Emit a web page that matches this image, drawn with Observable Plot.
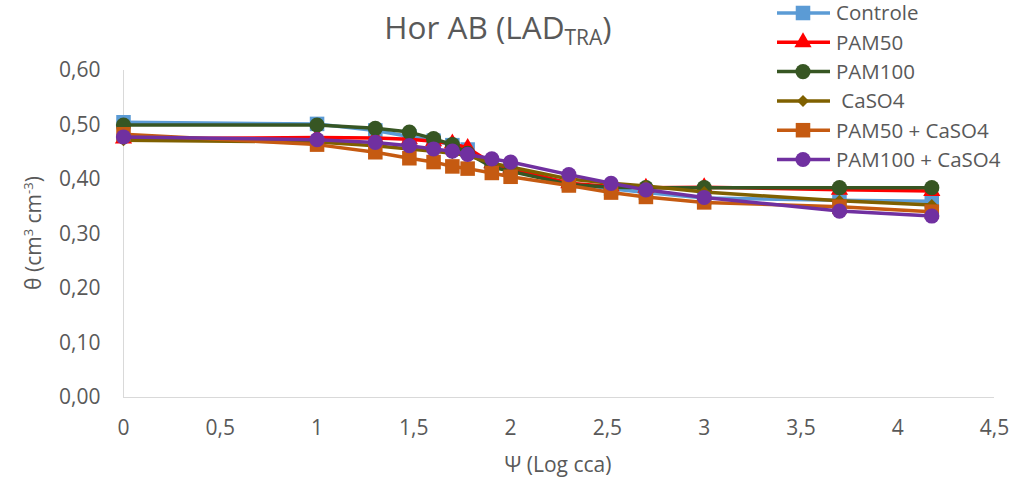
<!DOCTYPE html>
<html><head><meta charset="utf-8">
<script src="https://cdn.jsdelivr.net/npm/d3@7"></script>
<script src="https://cdn.jsdelivr.net/npm/@observablehq/plot@0.6"></script>
<style>body{margin:0;background:#fff;} #chart{position:relative;width:1028px;height:484px;}</style>
</head><body><div id="chart"></div>
<script>
const psi = [0, 1, 1.301, 1.477, 1.602, 1.699, 1.778, 1.903, 2, 2.301, 2.519, 2.699, 3, 3.699, 4.176];
const controle    = [0.505, 0.502, 0.490, 0.479, 0.471, 0.463, 0.455, 0.428, 0.420, 0.393, 0.383, 0.376, 0.366, 0.362, 0.360];
const pam50       = [0.475, 0.477, 0.476, 0.474, 0.470, 0.466, 0.458, 0.430, 0.420, 0.393, 0.387, 0.385, 0.386, 0.381, 0.379];
const pam100      = [0.500, 0.500, 0.494, 0.487, 0.475, 0.464, 0.448, 0.423, 0.415, 0.391, 0.386, 0.385, 0.385, 0.385, 0.385];
const caso4       = [0.472, 0.469, 0.462, 0.456, 0.452, 0.448, 0.444, 0.430, 0.423, 0.401, 0.393, 0.388, 0.377, 0.361, 0.353];
const pam50caso4  = [0.483, 0.464, 0.450, 0.439, 0.432, 0.424, 0.420, 0.412, 0.405, 0.389, 0.376, 0.368, 0.358, 0.350, 0.341];
const pam100caso4 = [0.478, 0.473, 0.468, 0.462, 0.456, 0.452, 0.446, 0.438, 0.432, 0.409, 0.393, 0.381, 0.367, 0.342, 0.333];

const seriesNames = ["Controle", "PAM50", "PAM100", " CaSO4", "PAM50 + CaSO4", "PAM100 + CaSO4"];
const seriesValues = [controle, pam50, pam100, caso4, pam50caso4, pam100caso4];
const seriesColors = ["#5B9BD5", "#FF0000", "#375623", "#7F6000", "#C55A11", "#7030A0"];
const seriesSymbols = ["square", "triangle", "circle", "diamond2", "square", "circle"];
const seriesR = [8.2, 6.4, 7.6, 5.4, 8.2, 7.6];

const xTicks = [0, 0.5, 1, 1.5, 2, 2.5, 3, 3.5, 4, 4.5];
const yTicks = [0, 0.1, 0.2, 0.3, 0.4, 0.5, 0.6];

const title = "Hor AB (LAD";
const titleSub = "TRA";
const xLabel = "Ψ (Log cca)";

const rows = seriesNames.flatMap((name, i) => psi.map((x, j) => ({series: name, x, y: seriesValues[i][j]})));

const marks = [
  Plot.ruleX([0], {stroke: "#d9d9d9", strokeWidth: 1}),
  Plot.ruleY([0], {stroke: "#d9d9d9", strokeWidth: 1})
];
seriesNames.forEach((name, i) => {
  const d = rows.filter(r => r.series === name);
  marks.push(Plot.line(d, {x: "x", y: "y", stroke: seriesColors[i], strokeWidth: 3.5}));
  marks.push(Plot.dot(d, {x: "x", y: "y", fill: seriesColors[i], stroke: "none", symbol: seriesSymbols[i], r: seriesR[i]}));
});

const plot = Plot.plot({
  width: 1028, height: 484,
  marginLeft: 123, marginRight: 34, marginTop: 70, marginBottom: 87,
  style: {fontFamily: "'Open Sans', sans-serif", fontSize: "21px", color: "#595959", background: "#fff", overflow: "visible"},
  x: {domain: [0, 4.5], ticks: xTicks, tickSize: 0, tickPadding: 23, tickFormat: d => String(d).replace(".", ","), label: null},
  y: {domain: [0, 0.6], ticks: yTicks, tickSize: 0, tickPadding: 23, tickFormat: d => d.toFixed(2).replace(".", ","), label: null},
  marks
});
document.getElementById("chart").appendChild(plot);

const svg = d3.select(plot);
const font = "'Open Sans', sans-serif";
// Title
const t = svg.append("text").attr("x", 498).attr("y", 39).attr("text-anchor", "middle")
  .attr("font-family", font).attr("font-size", 31.5).attr("fill", "#595959");
t.append("tspan").text(title);
t.append("tspan").attr("font-size", 21).attr("dy", 6).text(titleSub);
t.append("tspan").attr("dy", -6).text(")");

// X axis title
svg.append("text").attr("x", 558).attr("y", 472).attr("text-anchor", "middle")
  .attr("font-family", font).attr("font-size", 21).attr("fill", "#595959").text(xLabel);

// Y axis title
const yl = svg.append("text").attr("transform", "translate(41,233) rotate(-90)").attr("text-anchor", "middle")
  .attr("font-family", font).attr("font-size", 21).attr("fill", "#595959");
yl.append("tspan").text("θ (cm");
yl.append("tspan").attr("font-size", 13).attr("dy", -8).text("3");
yl.append("tspan").attr("dy", 8).text(" cm");
yl.append("tspan").attr("font-size", 13).attr("dy", -8).text("-3");
yl.append("tspan").attr("dy", 8).text(")");

// Legend
const lg = svg.append("g").attr("text-anchor", "start");
const symMap = {square: d3.symbolSquare, triangle: d3.symbolTriangle, circle: d3.symbolCircle, diamond2: d3.symbolDiamond2};
seriesNames.forEach((name, i) => {
  const y = 13 + i * 29.3;
  lg.append("line").attr("x1", 777).attr("x2", 830).attr("y1", y).attr("y2", y)
    .attr("stroke", seriesColors[i]).attr("stroke-width", 3.5);
  lg.append("path").attr("transform", `translate(803,${y})`)
    .attr("d", d3.symbol(symMap[seriesSymbols[i]], Math.PI * seriesR[i] * seriesR[i])())
    .attr("fill", seriesColors[i]);
  lg.append("text").attr("x", 836).attr("y", y).attr("dy", "0.36em").attr("text-anchor", "start")
    .attr("font-family", font).attr("font-size", 20.5).attr("fill", "#595959")
    .attr("xml:space", "preserve").style("white-space", "pre").text(name);
});
</script>
</body></html>
